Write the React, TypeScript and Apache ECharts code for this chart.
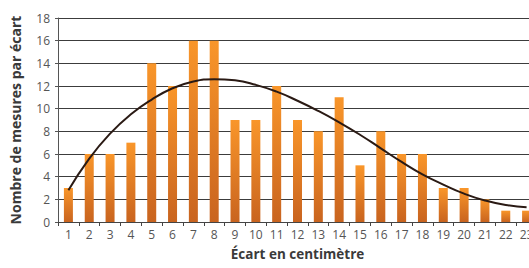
import React, { useEffect, useRef } from "react";
import * as echarts from "echarts";

const categories = ["1","2","3","4","5","6","7","8","9","10","11","12","13","14","15","16","17","18","19","20","21","22","23"];
const barValues = [3, 6, 6, 7, 14, 12, 16, 16, 9, 9, 12, 9, 8, 11, 5, 8, 6, 6, 3, 3, 2, 1, 1];
const curveValues = [2.8, 5.6, 7.8, 9.5, 10.8, 11.8, 12.4, 12.6, 12.5, 12.1, 11.5, 10.7, 9.8, 8.8, 7.7, 6.5, 5.3, 4.2, 3.3, 2.5, 1.9, 1.5, 1.3];

export default function App() {
  const ref = useRef<HTMLDivElement>(null);
  useEffect(() => {
    document.body.style.margin = "0";
    document.body.style.overflow = "hidden";
    const chart = echarts.init(ref.current!, undefined, { renderer: "svg" });
    chart.setOption({
      animation: false,
      backgroundColor: "#ffffff",
      textStyle: { fontFamily: "Open Sans" },
      grid: { left: 54, right: 0, top: 18, bottom: 46 },
      xAxis: {
        type: "category",
        data: categories,
        boundaryGap: true,
        name: "Écart en centimètre",
        nameLocation: "middle",
        nameGap: 25,
        nameTextStyle: { fontSize: 13.5, fontWeight: "bold", color: "#3a3a3a", fontFamily: "Open Sans" },
        axisLine: { lineStyle: { color: "#444", width: 1 } },
        axisTick: { show: true, length: 4, lineStyle: { color: "#444" } },
        axisLabel: { color: "#555", fontSize: 12, margin: 6 },
      },
      yAxis: {
        type: "value",
        min: 0,
        max: 18,
        interval: 2,
        name: "Nombre de mesures par écart",
        nameLocation: "middle",
        nameGap: 36,
        nameTextStyle: { fontSize: 14, fontWeight: "bold", color: "#3a3a3a", fontFamily: "Open Sans" },
        axisLine: { show: true, lineStyle: { color: "#555" } },
        axisTick: { show: true, length: 3, lineStyle: { color: "#555" } },
        axisLabel: { color: "#555", fontSize: 12, margin: 8 },
        splitLine: { show: true, lineStyle: { color: "#3c3c3c", width: 1 } },
      },
      series: [
        {
          type: "bar",
          data: barValues,
          barWidth: 9,
          itemStyle: {
            color: new echarts.graphic.LinearGradient(0, 0, 0, 1, [
              { offset: 0, color: "#F9962A" },
              { offset: 1, color: "#C9641F" },
            ]),
          },
          z: 2,
        },
        {
          type: "line",
          data: curveValues,
          smooth: true,
          symbol: "none",
          lineStyle: { color: "#2a1a14", width: 2 },
          z: 3,
        },
      ],
    });
    return () => chart.dispose();
  }, []);
  return (
    <div style={{ width: 529, height: 268, overflow: "hidden", position: "relative" }}>
      <div ref={ref} style={{ width: 537, height: 268 }} />
    </div>
  );
}
